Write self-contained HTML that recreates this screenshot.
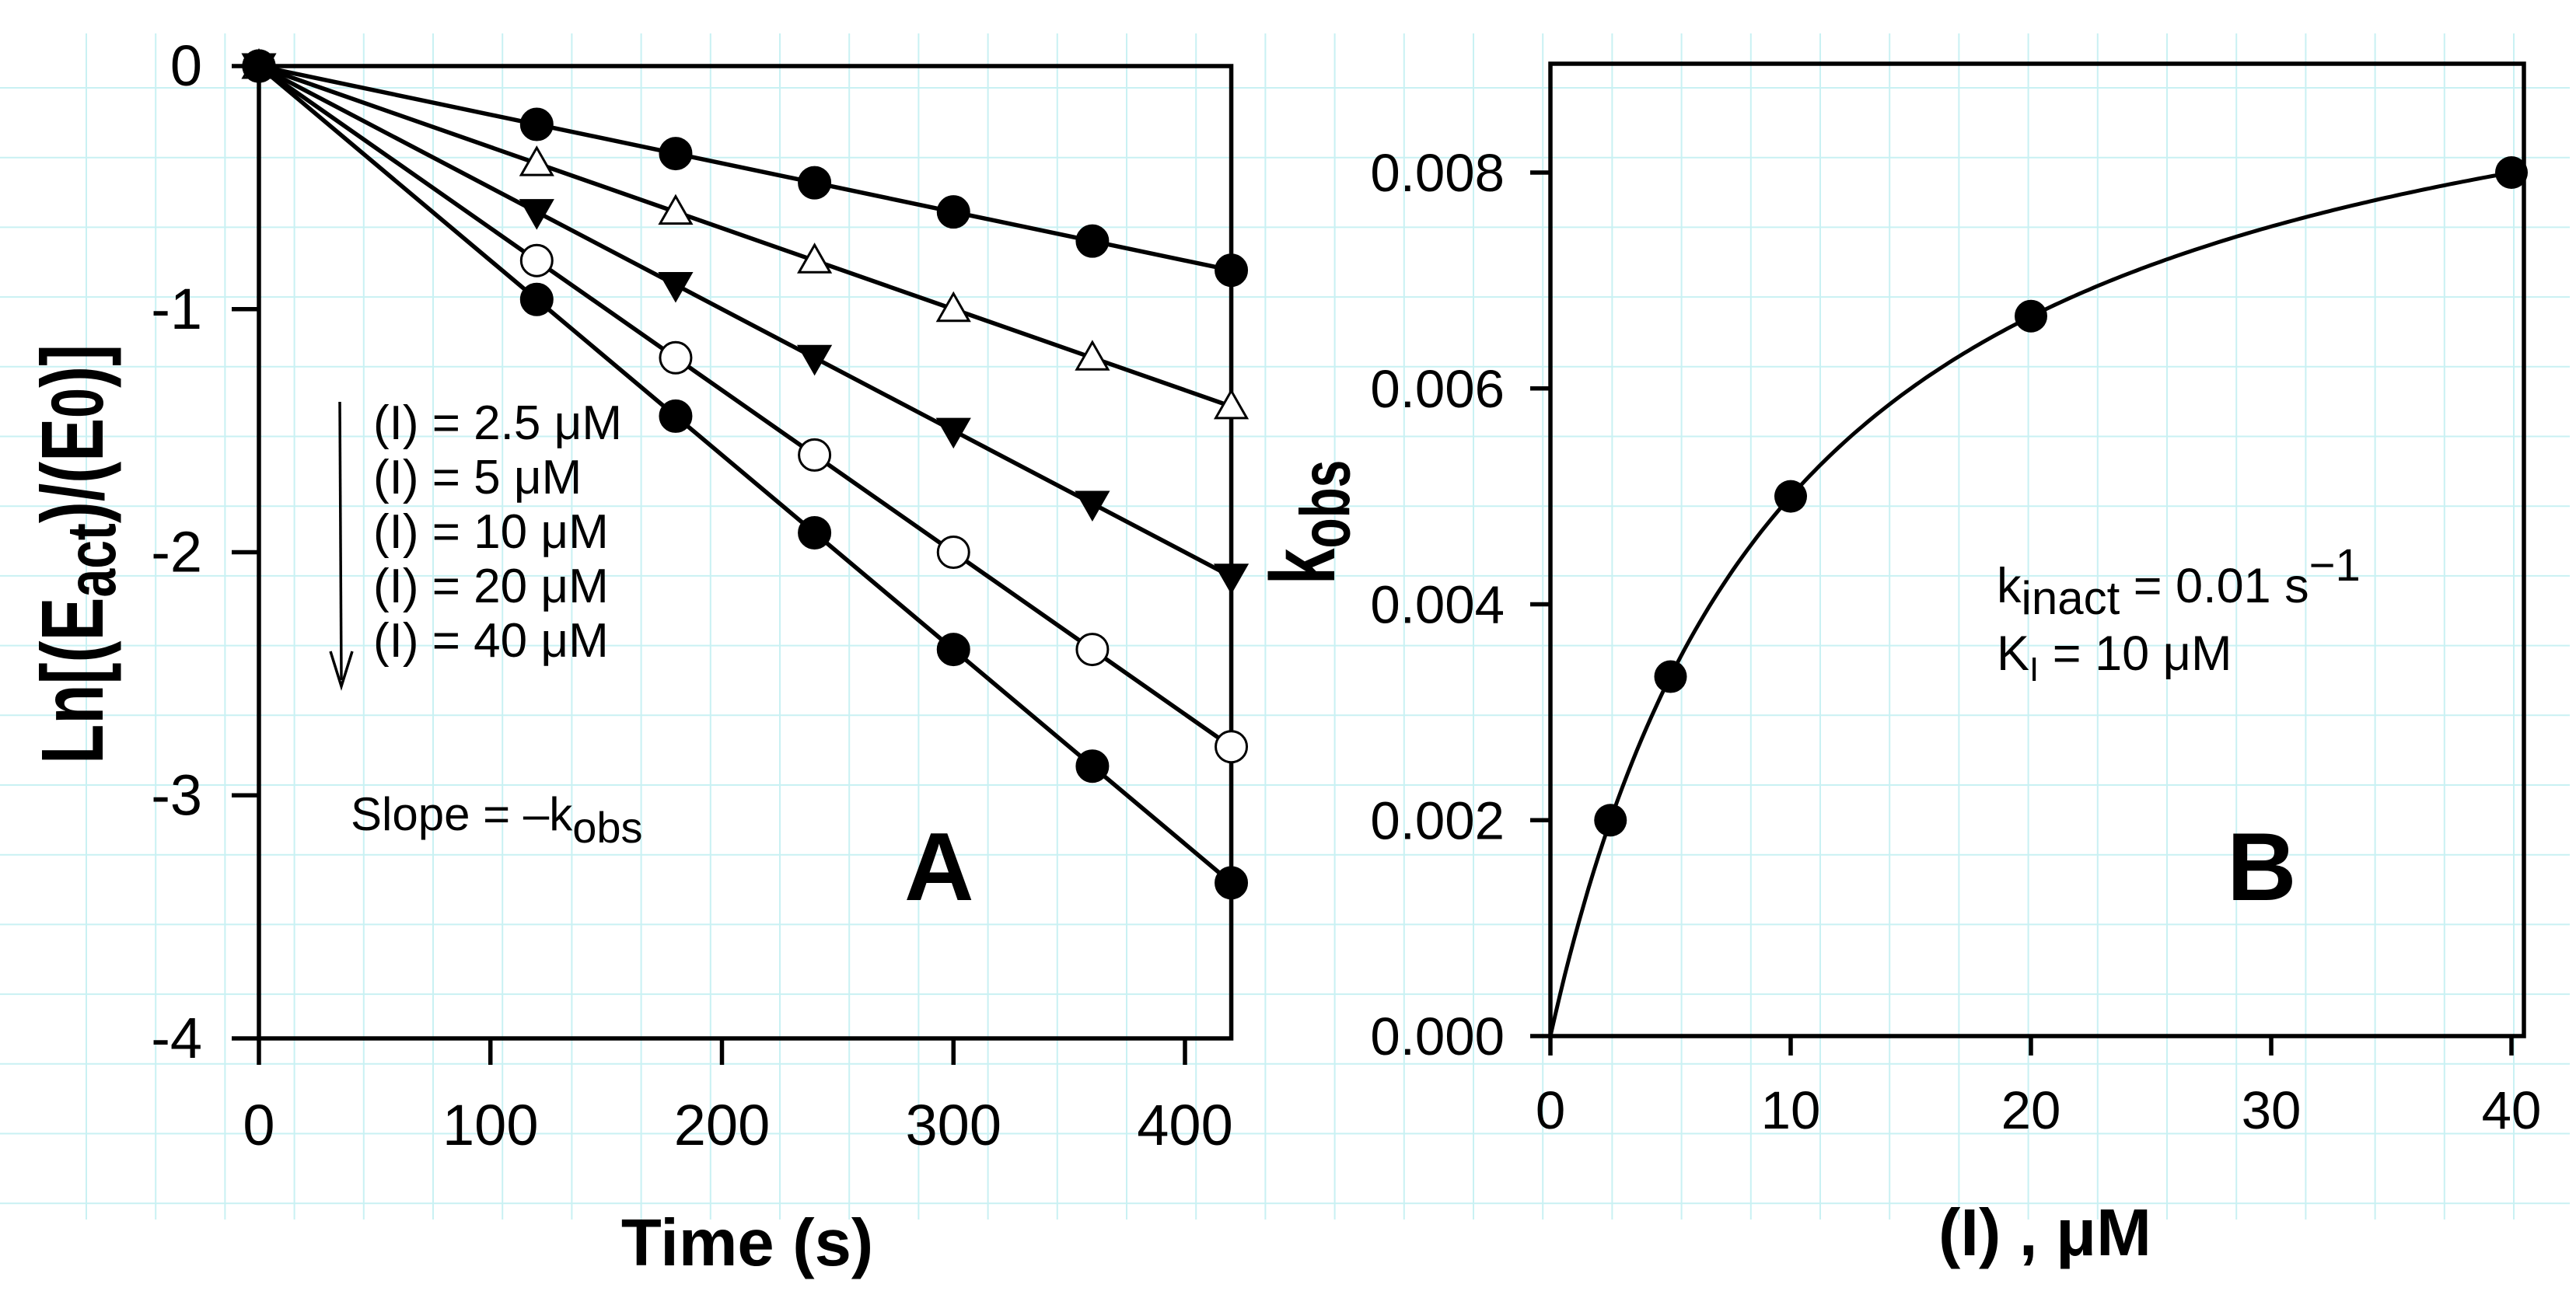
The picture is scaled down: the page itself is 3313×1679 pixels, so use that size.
<!DOCTYPE html>
<html><head><meta charset="utf-8"><style>
html,body{margin:0;padding:0;background:#fff}
svg{display:block;font-family:"Liberation Sans",Arial,sans-serif}
</style></head><body>
<svg id="c" width="3313" height="1679" viewBox="0 0 3313 1679" xmlns="http://www.w3.org/2000/svg">
<g id="grid"></g>
<g id="pa"></g>
<g id="pb"></g>
</svg>
<script>
// Panel A data
const timesA = [0,120,180,240,300,360,420];
const s25 = [0,-0.24,-0.36,-0.48,-0.6,-0.72,-0.84];
const s5 = [0,-0.4,-0.6,-0.8,-1.0,-1.2,-1.4];
const s10 = [0,-0.6,-0.9,-1.2,-1.5,-1.8,-2.1];
const s20 = [0,-0.8,-1.2,-1.6,-2.0,-2.4,-2.8];
const s40 = [0,-0.96,-1.44,-1.92,-2.4,-2.88,-3.36];
const xTicksA = [0,100,200,300,400];
const yTicksA = [0,-1,-2,-3,-4];
const legendLabels = ["(I) = 2.5 μM","(I) = 5 μM","(I) = 10 μM","(I) = 20 μM","(I) = 40 μM"];
// Panel B data
const concB = [2.5,5,10,20,40];
const kobsB = [0.002,0.00333,0.005,0.00667,0.008];
const kinact = 0.01;
const KI = 10;
const xTicksB = [0,10,20,30,40];
const yTicksB = [0,0.002,0.004,0.006,0.008];
const yTickLabelsB = ["0.000","0.002","0.004","0.006","0.008"];

const NS="http://www.w3.org/2000/svg";
function mk(tag,attrs,parent,text){const e=document.createElementNS(NS,tag);for(const k in attrs)e.setAttribute(k,attrs[k]);if(text!==undefined)e.textContent=text;parent.appendChild(e);return e;}

// grid
const grid=document.getElementById('grid');
for(let x=111;x<=3305;x+=89.2){const l=mk('line',{x1:x,y1:43,x2:x,y2:1569,stroke:'#c9f1f3','stroke-width':2},grid);

}
for(let y=113;y<=1560;y+=89.7){const l=mk('line',{x1:0,y1:y,x2:3305,y2:y,stroke:'#c9f1f3','stroke-width':2},grid);

}

// ===== Panel A =====
const pa=document.getElementById('pa');
const AX0=333, AX400=1524, AY0=85, AY4=1336;
const ax=v=>AX0+(v/400)*(AX400-AX0);
const ay=v=>AY0+(-v/4)*(AY4-AY0);
const LW=5.5;
const fa=mk('rect',{x:ax(0),y:ay(0),width:ax(420)-ax(0),height:ay(-4)-ay(0),fill:'none',stroke:'#000','stroke-width':LW},pa);


xTicksA.forEach(t=>{const l=mk('line',{x1:ax(t),y1:ay(-4),x2:ax(t),y2:ay(-4)+34,stroke:'#000','stroke-width':LW},pa);


const tx=mk('text',{x:ax(t),y:1473,'font-size':74,'text-anchor':'middle'},pa,String(t));

});
yTicksA.forEach(t=>{const l=mk('line',{x1:ax(0)-35,y1:ay(t),x2:ax(0),y2:ay(t),stroke:'#000','stroke-width':LW},pa);


const tx=mk('text',{x:260,y:ay(t)+25,'font-size':74,'text-anchor':'end'},pa,String(t));

});
const seriesA=[[s25,'circle','#000'],[s5,'tri','#fff'],[s10,'tridown','#000'],[s20,'circle','#fff'],[s40,'circle','#000']];
seriesA.forEach((s,i)=>{
 const pts=timesA.map((t,j)=>ax(t)+','+ay(s[0][j])).join(' ');
 const pl=mk('polyline',{points:pts,fill:'none',stroke:'#000','stroke-width':LW},pa);
 
 
 timesA.forEach((t,j)=>{const x=ax(t),y=ay(s[0][j]);let m;
  if(s[1]==='circle'){m=mk('circle',{cx:x,cy:y,r:20,fill:s[2],stroke:'#000','stroke-width':3},pa);}
  else if(s[1]==='tri'){m=mk('polygon',{points:`${x},${y-20} ${x-20},${y+15} ${x+20},${y+15}`,fill:s[2],stroke:'#000','stroke-width':3},pa);}
  else {m=mk('polygon',{points:`${x},${y+20} ${x-20},${y-15} ${x+20},${y-15}`,fill:s[2],stroke:'#000','stroke-width':3},pa);}
  
  });
});
// legend
const arr=mk('line',{x1:437,y1:517,x2:439,y2:875,stroke:'#000','stroke-width':3.5},pa);


const ah=mk('path',{d:'M425,838 L439,883 L453,838',fill:'none',stroke:'#000','stroke-width':3.5},pa);


legendLabels.forEach((s,i)=>{const t=mk('text',{x:480,y:565+i*70,'font-size':62},pa,s);

});
</script>
<script>
(function(){
const pa=document.getElementById('pa');
const sl=document.createElementNS(NS,'text');
sl.setAttribute('x',451);sl.setAttribute('y',1068);sl.setAttribute('font-size',60);
sl.innerHTML='Slope = –k<tspan dy="16" font-size="56">obs</tspan>';


pa.appendChild(sl);
const A=mk('text',{x:1163,y:1158,'font-size':124,'font-weight':'bold'},pa,'A');


const xt=mk('text',{x:961,y:1628,'font-size':85,'font-weight':'bold','text-anchor':'middle'},pa,'Time (s)');


const yt=document.createElementNS(NS,'text');
yt.setAttribute('transform','translate(132,713) rotate(-90) scale(1,1.35)');
yt.setAttribute('text-anchor','middle');yt.setAttribute('font-size',84);yt.setAttribute('font-weight','bold');
yt.innerHTML='Ln[(E<tspan dy="12" font-size="66">act</tspan><tspan dy="-12">)/(E</tspan><tspan font-size="70">0</tspan>)]';


pa.appendChild(yt);

// ===== Panel B =====
const pb=document.getElementById('pb');
const BX0=1994, BX40=3230, BY0=1333, BY8=222;
const bx=v=>BX0+(v/40)*(BX40-BX0);
const by=v=>BY0-(v/0.008)*(BY0-BY8);
const fr=mk('rect',{x:BX0,y:82,width:3246-BX0,height:BY0-82,fill:'none',stroke:'#000','stroke-width':5.5},pb);


xTicksB.forEach(t=>{const l=mk('line',{x1:bx(t),y1:BY0,x2:bx(t),y2:1358,stroke:'#000','stroke-width':5.5},pb);


const tx=mk('text',{x:bx(t),y:1452,'font-size':69,'text-anchor':'middle'},pb,String(t));

});
yTicksB.forEach((t,i)=>{const l=mk('line',{x1:1968,y1:by(t),x2:BX0,y2:by(t),stroke:'#000','stroke-width':5.5},pb);


const tx=mk('text',{x:1935,y:by(t)+24,'font-size':69,'text-anchor':'end'},pb,yTickLabelsB[i]);

});
let d='';for(let i=0;i<=200;i++){const c=40*i/200;const v=kinact*c/(KI+c);d+=(i?'L':'M')+bx(c).toFixed(1)+','+by(v).toFixed(1);}
const cu=mk('path',{d:d,fill:'none',stroke:'#000','stroke-width':5},pb);


concB.forEach((c,i)=>{const m=mk('circle',{cx:bx(c),cy:by(kobsB[i]),r:21,fill:'#000'},pb);

});
const k1=document.createElementNS(NS,'text');
k1.setAttribute('x',2568);k1.setAttribute('y',775);k1.setAttribute('font-size',63);
k1.innerHTML='k<tspan dy="15" font-size="60">inact</tspan><tspan dy="-15"> = 0.01 s</tspan><tspan dy="-28" font-size="58">−1</tspan>';


pb.appendChild(k1);
const k2=document.createElementNS(NS,'text');
k2.setAttribute('x',2568);k2.setAttribute('y',862);k2.setAttribute('font-size',63);
k2.innerHTML='K<tspan dy="14" font-size="44">I</tspan><tspan dy="-14"> = 10 μM</tspan>';


pb.appendChild(k2);
const B=mk('text',{x:2864,y:1158,'font-size':124,'font-weight':'bold'},pb,'B');


const xb=mk('text',{x:2630,y:1615,'font-size':85,'font-weight':'bold','text-anchor':'middle'},pb,'(I) , μM');


const yb=document.createElementNS(NS,'text');
yb.setAttribute('transform','translate(1716,672) rotate(-90) scale(1,1.4)');
yb.setAttribute('text-anchor','middle');yb.setAttribute('font-size',84);yb.setAttribute('font-weight','bold');
yb.innerHTML='k<tspan dy="14" font-size="64">obs</tspan>';


pb.appendChild(yb);
})();
</script>
</body></html>
